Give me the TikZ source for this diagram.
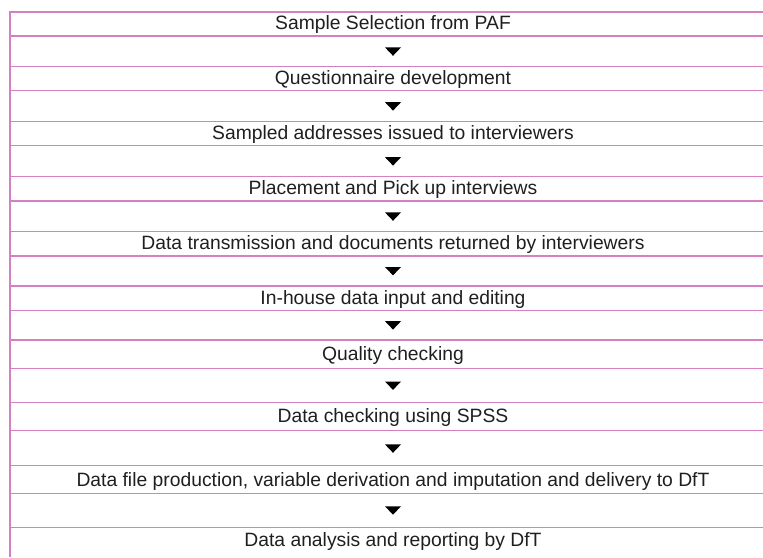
\documentclass[tikz,border=0pt]{standalone}
\usepackage{fontspec}
\setmainfont{Liberation Sans}
\definecolor{rule}{RGB}{214,128,196}
\begin{document}
\begin{tikzpicture}[x=1pt,y=-1pt,
  rulel/.style={draw=rule, line width=1.4pt},
  lbl/.style={font=\fontsize{19.3}{22}\selectfont, inner sep=0pt, anchor=base, text=black!88},
  tri/.style={fill=black}]
\useasboundingbox (0,0) rectangle (763,557);
% horizontal rules
\foreach \y in {12,36,66.7,90.7,121.7,145.7,176.7,201,231.7,256,286,310.3,340,368.3,402.7,430.7,465.7,493.3,527.3}
  \draw[rulel] (10,\y) -- (763,\y);
% left rule
\draw[rulel] (10,11.3) -- (10,557);
% texts (base line positions)
\node[lbl] (s1) at (393,29.6) {Sample Selection from PAF};
\node[lbl] (s2) at (393,84.6) {Questionnaire development};
\node[lbl] (s3) at (393,139.6) {Sampled addresses issued to interviewers};
\node[lbl] (s4) at (393,194.7) {Placement and Pick up interviews};
\node[lbl] (s5) at (393,249.7) {Data transmission and documents returned by interviewers};
\node[lbl] (s6) at (393,304.1) {In-house data input and editing};
\node[lbl] (s7) at (393,360.0) {Quality checking};
\node[lbl] (s8) at (393,422.5) {Data checking using SPSS};
\node[lbl] (s9) at (393,486.0) {Data file production, variable derivation and imputation and delivery to DfT};
\node[lbl] (s10) at (393,546.5) {Data analysis and reporting by DfT};
% arrows
\foreach \c in {51.6,106.4,161.4,216.6,271.2,325.4,385.7,448.6,510.5}
  \fill[tri] (385,\c-4.2) -- (401,\c-4.2) -- (393,\c+4.2) -- cycle;
\end{tikzpicture}
\end{document}
